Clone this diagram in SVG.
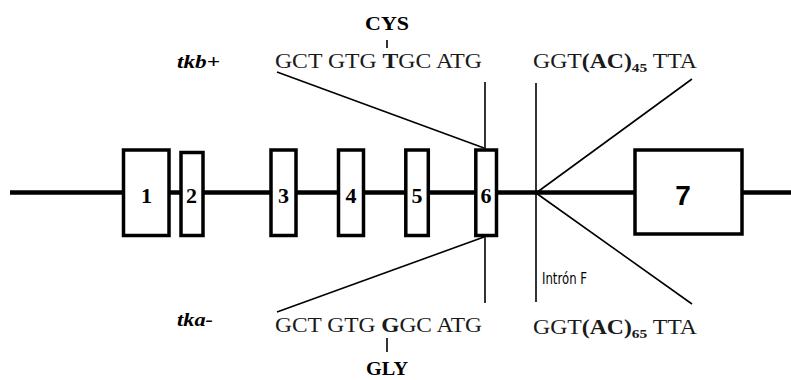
<svg xmlns="http://www.w3.org/2000/svg" width="791" height="380" viewBox="0 0 791 380">
<style>
.exon rect{fill:#fff;stroke:#000;stroke-width:3.5}
.num{font-family:"Liberation Serif","Times New Roman",serif;font-weight:bold;font-size:22px;text-anchor:middle}
.seq{font-family:"Liberation Serif","Times New Roman",serif;font-size:20px;fill:#1a1a1a}
.b{font-weight:bold}
.aa{font-family:"Liberation Serif","Times New Roman",serif;font-weight:bold;font-size:19px;text-anchor:middle}
.lab{font-family:"Liberation Serif","Times New Roman",serif;font-weight:bold;font-style:italic;font-size:19px}
.thin{stroke:#000;stroke-width:1.6;fill:none}
</style>
<rect width="791" height="380" fill="#fff"/>
<g id="connectors">
<line x1="10" y1="192.5" x2="791" y2="192.5" stroke="#000" stroke-width="4.5"/>
<line class="thin" x1="277" y1="72" x2="484" y2="148"/>
<line class="thin" x1="485" y1="82" x2="485" y2="149"/>
<line class="thin" x1="277" y1="312" x2="484" y2="237"/>
<line class="thin" x1="485" y1="237" x2="485" y2="303"/>
<line class="thin" x1="536" y1="83" x2="536" y2="302"/>
<line class="thin" x1="536" y1="193" x2="692" y2="79"/>
<line class="thin" x1="536" y1="193" x2="692" y2="304"/>
<line class="thin" x1="387" y1="40" x2="387" y2="48"/>
<line class="thin" x1="387" y1="338" x2="387" y2="352"/>
</g>
<g id="exon1" class="exon"><rect x="123.5" y="150" width="45.5" height="85.5"/><text class="num" x="146.5" y="203">1</text></g>
<g id="exon2" class="exon"><rect x="181" y="152.5" width="22" height="83"/><text class="num" x="191.5" y="203">2</text></g>
<g id="exon3" class="exon"><rect x="271" y="150" width="25" height="85.5"/><text class="num" x="283.5" y="203">3</text></g>
<g id="exon4" class="exon"><rect x="338.5" y="150" width="25" height="85.5"/><text class="num" x="351" y="203">4</text></g>
<g id="exon5" class="exon"><rect x="405.8" y="150" width="22.5" height="85.5"/><text class="num" x="417" y="203">5</text></g>
<g id="exon6" class="exon"><rect x="475.8" y="150" width="20.7" height="85.5"/><text class="num" x="486" y="203">6</text></g>
<g id="exon7" class="exon"><rect x="635" y="150" width="107" height="84"/><text x="683" y="205" text-anchor="middle" font-family="Liberation Sans, Arial, sans-serif" font-weight="bold" font-size="28">7</text></g>
<g id="labels">
<text class="aa" x="387" y="30" textLength="44" lengthAdjust="spacingAndGlyphs">CYS</text>
<text class="lab" x="177" y="68" textLength="43" lengthAdjust="spacingAndGlyphs">tkb+</text>
<text class="seq" x="275" y="68" textLength="207" lengthAdjust="spacingAndGlyphs">GCT GTG <tspan class="b">T</tspan>GC ATG</text>
<text class="seq" x="533" y="68" textLength="164" lengthAdjust="spacingAndGlyphs">GGT<tspan class="b">(AC)</tspan><tspan class="b" font-size="13" dy="4">45</tspan><tspan dy="-4"> TTA</tspan></text>
<text x="542" y="284" font-family="DejaVu Sans, sans-serif" font-size="15" textLength="45" lengthAdjust="spacingAndGlyphs">Intrón F</text>
<text class="lab" x="177" y="326" textLength="36" lengthAdjust="spacingAndGlyphs">tka-</text>
<text class="seq" x="275" y="332" textLength="207" lengthAdjust="spacingAndGlyphs">GCT GTG <tspan class="b">G</tspan>GC ATG</text>
<text class="seq" x="533" y="334" textLength="164" lengthAdjust="spacingAndGlyphs">GGT<tspan class="b">(AC)</tspan><tspan class="b" font-size="13" dy="4">65</tspan><tspan dy="-4"> TTA</tspan></text>
<text class="aa" x="387" y="375" textLength="42" lengthAdjust="spacingAndGlyphs">GLY</text>
</g>
</svg>
